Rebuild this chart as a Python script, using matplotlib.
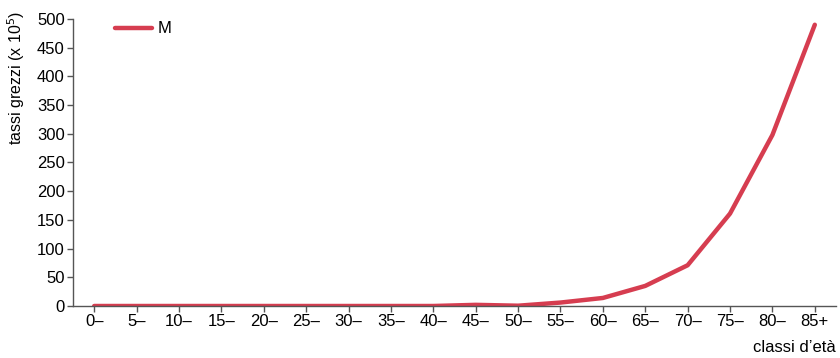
import numpy as np
import matplotlib.pyplot as plt

plt.rcParams['font.family'] = ['Liberation Sans', 'DejaVu Sans']

# classi di età e tassi grezzi (x 10^5)
classi = ['0–', '5–', '10–', '15–', '20–', '25–', '30–', '35–', '40–',
          '45–', '50–', '55–', '60–', '65–', '70–', '75–', '80–', '85+']
tassi_m = [0, 0, 0, 0, 0, 0, 0, 0, 0, 2, 0.5, 6, 14, 35, 71, 161, 298, 490]
y_ticks = [0, 50, 100, 150, 200, 250, 300, 350, 400, 450, 500]

fig = plt.figure(figsize=(8.4, 3.58), dpi=100)
ax = fig.add_axes([73 / 840, 52 / 358, 763 / 840, 287 / 358])

x = np.arange(len(classi))
ax.plot(x, tassi_m, color='#d63d50', lw=3.2, solid_capstyle='round',
        solid_joinstyle='round', label='M')

ax.set_xlim(-0.5, len(classi) - 0.5)
ax.set_ylim(0, 500)
ax.set_xticks(x)
ax.set_xticklabels(classi)
ax.set_yticks(y_ticks)
ax.tick_params(labelsize=12, color='#555555', length=4, width=1, pad=2)

for s in ['top', 'right']:
    ax.spines[s].set_visible(False)
for s in ['left', 'bottom']:
    ax.spines[s].set_color('#555555')
    ax.spines[s].set_linewidth(1)
ax.spines['left'].set_bounds(0, 500)

ax.set_ylabel('tassi grezzi (x 10$^5$)', fontsize=11.5)
ax.yaxis.set_label_coords((27 - 73) / 763, (306 - 78) / 287)
fig.text(836 / 840, 10 / 358, 'classi d\u2019età', fontsize=12,
         ha='right', va='center')

leg = ax.legend(loc='upper left', bbox_to_anchor=(0.036, 1.044), frameon=False,
                fontsize=12, handlelength=2.2, handletextpad=0.3)

fig.savefig('out.png', dpi=100)
